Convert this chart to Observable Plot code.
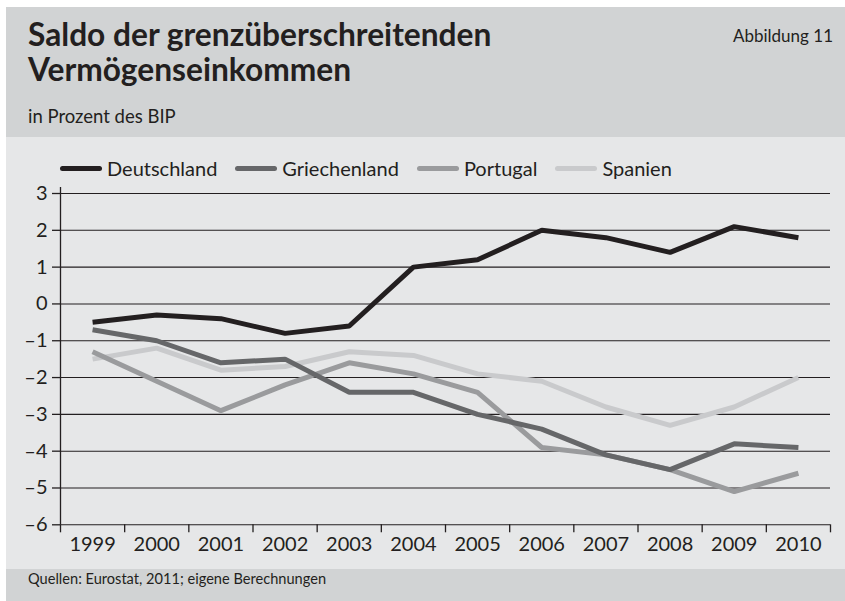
<!DOCTYPE html>
<html>
<head>
<meta charset="utf-8">
<script src="https://cdn.jsdelivr.net/npm/d3@7"></script>
<script src="https://cdn.jsdelivr.net/npm/@observablehq/plot@0.6"></script>
<style>
  html, body { margin: 0; padding: 0; background: #fff; }
  #wrap { position: relative; width: 845px; height: 601px; overflow: hidden; font-family: Lato, sans-serif; color: #231f20; }
  .bg { position: absolute; left: 6px; width: 839px; }
  #head { top: 7px; height: 130px; background: #d1d3d4; }
  #body { top: 137px; height: 432px; background: #e6e7e8; }
  #foot { top: 569px; height: 32px; background: #d1d3d4; }
  #title { position: absolute; left: 28px; top: 17px; font-size: 31.7px; font-weight: 700; line-height: 35px; white-space: nowrap; }
  #sub { position: absolute; left: 28px; top: 104px; font-size: 18.5px; line-height: 24px; }
  #fig { position: absolute; right: 12px; top: 26px; font-size: 17px; line-height: 20px; }
  #src { position: absolute; left: 28px; top: 570px; font-size: 14.6px; line-height: 18px; }
  #legend { position: absolute; left: 60px; top: 156px; height: 24px; display: flex; align-items: center; font-size: 20px; line-height: 24px; }
  .item { display: flex; align-items: center; margin-right: 18px; }
  .sw { width: 42px; height: 5px; border-radius: 2.5px; margin-right: 5px; }
  #chart { position: absolute; left: 0; top: 137px; }
</style>
</head>
<body>
<div id="wrap">
  <div class="bg" id="head"></div>
  <div class="bg" id="body"></div>
  <div class="bg" id="foot"></div>
  <div id="title">Saldo der grenzüberschreitenden<br>Vermögenseinkommen</div>
  <div id="fig">Abbildung 11</div>
  <div id="sub">in Prozent des BIP</div>
  <div id="legend"></div>
  <div id="chart"></div>
  <div id="src">Quellen: Eurostat, 2011; eigene Berechnungen</div>
</div>
<script>
const years = [1999, 2000, 2001, 2002, 2003, 2004, 2005, 2006, 2007, 2008, 2009, 2010];
const countries = ["Deutschland", "Griechenland", "Portugal", "Spanien"];
const colors = ["#231f20", "#666769", "#9a9b9d", "#c9cacc"];
const deutschland  = [-0.5, -0.3, -0.4, -0.8, -0.6, 1.0, 1.2, 2.0, 1.8, 1.4, 2.1, 1.8];
const griechenland = [-0.7, -1.0, -1.6, -1.5, -2.4, -2.4, -3.0, -3.4, -4.1, -4.5, -3.8, -3.9];
const portugal     = [-1.3, -2.1, -2.9, -2.2, -1.6, -1.9, -2.4, -3.9, -4.1, -4.5, -5.1, -4.6];
const spanien      = [-1.5, -1.2, -1.8, -1.7, -1.3, -1.4, -1.9, -2.1, -2.8, -3.3, -2.8, -2.0];
const yTicks = [-6, -5, -4, -3, -2, -1, 0, 1, 2, 3];

const series = [deutschland, griechenland, portugal, spanien];
const data = [];
series.forEach((vals, k) => vals.forEach((v, i) => data.push({country: countries[k], year: years[i], value: v})));
const boundaries = [years[0] - 0.5, ...years.map(y => y + 0.5)];

// legend
const legend = document.getElementById("legend");
countries.forEach((c, i) => {
  const it = document.createElement("div");
  it.className = "item";
  it.innerHTML = `<div class="sw" style="background:${colors[i]}"></div><span>${c}</span>`;
  legend.appendChild(it);
});

const fmt = d => d < 0 ? "–" + Math.abs(d) : String(d);
const lineOpts = {x: "year", y: "value", stroke: "country", strokeWidth: 5, strokeLinejoin: "miter", strokeLinecap: "butt"};

const plot = Plot.plot({
  width: 845,
  height: 432,
  marginLeft: 60,
  marginRight: 15,
  marginTop: 50,
  marginBottom: 44.7,
  style: {background: "transparent", fontFamily: "Lato, sans-serif", fontSize: "20px", color: "#231f20", overflow: "visible"},
  x: {type: "linear", domain: [boundaries[0], boundaries[boundaries.length - 1]], range: [60, 830]},
  y: {domain: [-6, 3], range: [387.3, 56]},
  color: {domain: countries, range: colors},
  marks: [
    Plot.ruleY(yTicks, {stroke: "#231f20", strokeWidth: 1.1}),
    Plot.ruleX([boundaries[0]], {stroke: "#231f20", strokeWidth: 1.3}),
    Plot.axisY({ticks: yTicks, tickSize: 8, tickPadding: 5, tickFormat: fmt, stroke: "#231f20", strokeWidth: 1.3, label: null, fill: "#231f20"}),
    Plot.axisX({ticks: boundaries, tickSize: 8, tickFormat: () => "", stroke: "#231f20", strokeWidth: 1.3, label: null}),
    Plot.axisX({ticks: years, tickSize: 0, tickPadding: 12, tickFormat: d => String(d), label: null, fill: "#231f20"}),
    Plot.line(data.filter(d => d.country === "Spanien"), lineOpts),
    Plot.line(data.filter(d => d.country === "Portugal"), lineOpts),
    Plot.line(data.filter(d => d.country === "Griechenland"), lineOpts),
    Plot.line(data.filter(d => d.country === "Deutschland"), lineOpts)
  ]
});
document.getElementById("chart").appendChild(plot);
</script>
</body>
</html>
